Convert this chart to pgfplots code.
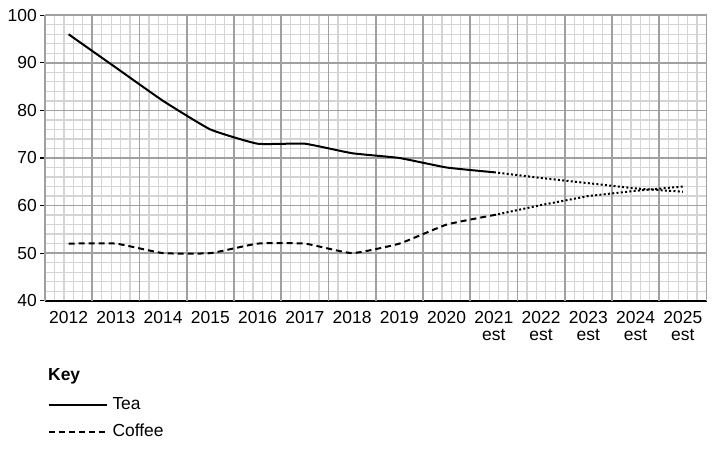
\documentclass[border=0pt]{standalone}
\usepackage{pgfplots}
\pgfplotsset{compat=1.18}
\usepackage{fontspec}
\setmainfont{Liberation Sans}
\definecolor{majgrid}{HTML}{A0A0A0}
\definecolor{mingrid}{HTML}{D4D4D4}
\begin{document}
\begin{tikzpicture}[x=1bp,y=1bp]
\useasboundingbox (0,0) rectangle (717,453);
\begin{axis}[
  at={(45bp,152.3bp)}, anchor=south west,
  scale only axis, width=661.5bp, height=285.4bp,
  xmin=2011.5, xmax=2025.5, ymin=40, ymax=100,
  clip=false,
  axis x line*=bottom, axis y line*=left,
  axis line style={black, line width=1.8bp, -},
  font={\fontsize{17.5}{17.7}\selectfont},
  /pgf/number format/assume math mode=true,
  xtick={2012,...,2025},
  xticklabels={2012,2013,2014,2015,2016,2017,2018,2019,2020,{2021\\est},{2022\\est},{2023\\est},{2024\\est},{2025\\est}},
  xticklabel style={align=center, inner sep=0pt, yshift=-5bp, anchor=north},
  xtick style={/pgfplots/major tick length=0pt},
  minor xtick={2011.7,2011.9,2012.1,2012.3,2012.7,2012.9,2013.1,2013.3,2013.7,2013.9,2014.1,2014.3,2014.7,2014.9,2015.1,2015.3,2015.7,2015.9,2016.1,2016.3,2016.7,2016.9,2017.1,2017.3,2017.7,2017.9,2018.1,2018.3,2018.7,2018.9,2019.1,2019.3,2019.7,2019.9,2020.1,2020.3,2020.7,2020.9,2021.1,2021.3,2021.7,2021.9,2022.1,2022.3,2022.7,2022.9,2023.1,2023.3,2023.7,2023.9,2024.1,2024.3,2024.7,2024.9,2025.1,2025.3},
  extra x ticks={2011.5,2012.5,2013.5,2014.5,2015.5,2016.5,2017.5,2018.5,2019.5,2020.5,2021.5,2022.5,2023.5,2024.5,2025.5},
  extra x tick labels={},
  extra x tick style={grid=major, major tick length=0pt},
  ytick={40,50,...,100},
  minor y tick num=4,
  yticklabel style={inner sep=0pt, xshift=-3bp},
  ytick style={black, line width=1.2bp},
  tick align=outside,
  major tick length=5bp, minor tick length=0pt,
  ymajorgrids, yminorgrids, xminorgrids,
  major grid style={majgrid, line width=1.6bp},
  minor grid style={mingrid, line width=1.2bp},
  legend style={draw=none, fill=none, at={(0.0035,-0.4125)}, anchor=west,
    inner sep=0pt, row sep=9.7bp, column sep=5bp,
    nodes={inner sep=0pt, text height=13bp, text depth=4bp},
    cells={anchor=west}},
  legend image code/.code={\draw[#1] (0bp,0bp) -- (58bp,0bp);},
]
\addplot[black, line width=2bp, line join=round, smooth, tension=0.25] coordinates {
(2012,96) (2013,89) (2014,82) (2015,76) (2016,73) (2017,73) (2018,71) (2019,70) (2020,68) (2021,67)};
\addlegendentry{Tea}
\addplot[black, line width=2bp, dash pattern=on 6bp off 4bp, smooth, tension=0.25] coordinates {
(2012,52) (2013,52) (2014,50) (2015,50) (2016,52) (2017,52) (2018,50) (2019,52) (2020,56) (2021,58)};
\addlegendentry{Coffee}
\addplot[forget plot, black, line width=2bp, dash pattern=on 2bp off 2.3bp] coordinates {
(2021,67) (2022,65.8) (2023,64.7) (2024,63.6) (2025,62.9)};
\addplot[forget plot, black, line width=2bp, dash pattern=on 2bp off 2.3bp] coordinates {
(2021,58) (2022,60.1) (2023,62) (2024,63.1) (2025,64)};
\node[anchor=base west, inner sep=0pt, font={\fontsize{17.5}{17.7}\selectfont\bfseries}] at (axis description cs:0.0045,-0.278) {Key};
\end{axis}
\end{tikzpicture}
\end{document}
